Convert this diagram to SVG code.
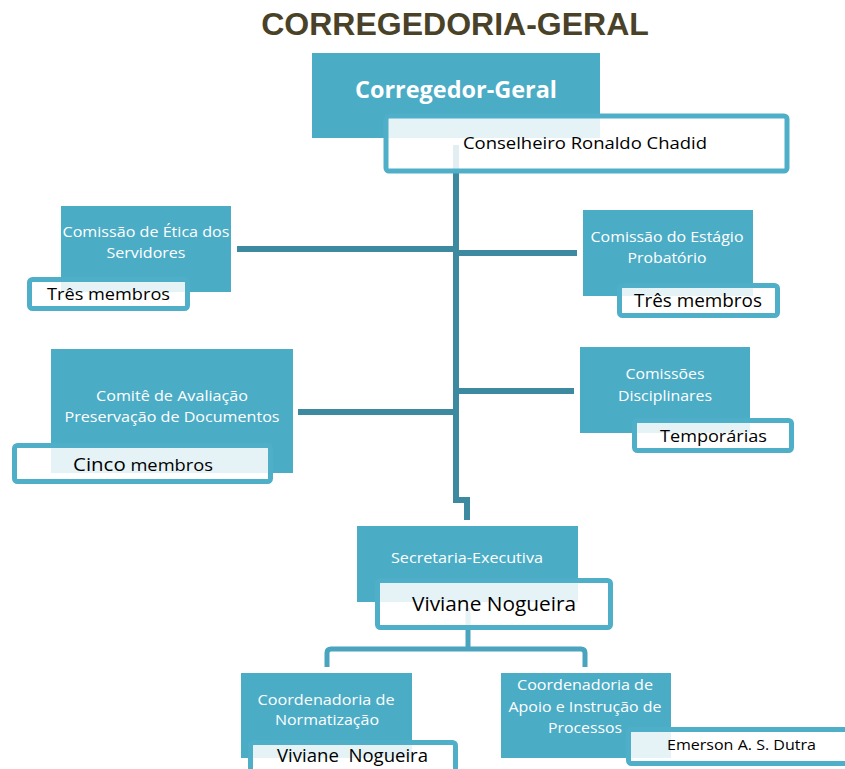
<svg xmlns="http://www.w3.org/2000/svg" width="845" height="769" viewBox="0 0 845 769">
<style>
.box{fill:#4bacc6}
.lab{fill:#ffffff;fill-opacity:0.86;stroke:#4fafc8;stroke-width:5}
.t{font-family:"Open Sans","Noto Sans",sans-serif;fill:#ffffff;text-anchor:middle;font-size:15px}
.b{font-family:"Open Sans","Noto Sans",sans-serif;fill:#000000;font-size:17px;white-space:pre}
.c{fill:none;stroke:#3d8aa0;stroke-width:6}
.c2{fill:none;stroke:#4aa4be;stroke-width:5;stroke-linejoin:round}
.title{font-family:"Liberation Sans",Arial,sans-serif;font-weight:bold;font-size:32px;fill:#4a4228;text-anchor:middle}
</style>
<rect width="845" height="769" fill="#ffffff"/>
<text class="title" x="455" y="35">CORREGEDORIA-GERAL</text>
<g id="connectors">
<path class="c" d="M456,145 V500 H467 V520"/>
<path class="c" d="M237,249 H456"/>
<path class="c" d="M456,253 H577"/>
<path class="c" d="M298,412 H456"/>
<path class="c" d="M456,391 H574"/>
<path class="c2" d="M468,608 V649"/>
<path class="c2" d="M327,667 V653 Q327,649 331,649 H581 Q585,649 585,653 V667"/>
</g>
<g id="corregedor">
<rect class="box" x="312" y="53" width="288" height="85"/>
<text class="t" x="456" y="98" style="font-size:24px;font-weight:bold" textLength="202" lengthAdjust="spacingAndGlyphs">Corregedor-Geral</text>
<rect class="lab" x="386" y="116" width="401" height="55" rx="3"/>
<text class="b" x="463" y="149" textLength="244" lengthAdjust="spacingAndGlyphs">Conselheiro Ronaldo Chadid</text>
</g>
<g id="etica">
<rect class="box" x="61" y="206" width="170" height="86"/>
<text class="t" x="146" y="237" textLength="167" lengthAdjust="spacingAndGlyphs">Comissão de Ética dos</text>
<text class="t" x="146" y="258" textLength="79" lengthAdjust="spacingAndGlyphs">Servidores</text>
<rect class="lab" x="29.5" y="279.5" width="158" height="29" rx="3"/>
<text class="b" x="47" y="300" textLength="123" lengthAdjust="spacingAndGlyphs">Três membros</text>
</g>
<g id="estagio">
<rect class="box" x="583" y="210" width="170" height="86"/>
<text class="t" x="667" y="242" textLength="153" lengthAdjust="spacingAndGlyphs">Comissão do Estágio</text>
<text class="t" x="667" y="263" textLength="79" lengthAdjust="spacingAndGlyphs">Probatório</text>
<rect class="lab" x="619.5" y="285.5" width="158" height="30" rx="3"/>
<text class="b" x="634" y="307" style="font-size:19px" textLength="128" lengthAdjust="spacingAndGlyphs">Três membros</text>
</g>
<g id="comite">
<rect class="box" x="51" y="349" width="242" height="124"/>
<text class="t" x="172" y="401" textLength="152" lengthAdjust="spacingAndGlyphs">Comitê de Avaliação</text>
<text class="t" x="172" y="422" textLength="215" lengthAdjust="spacingAndGlyphs">Preservação de Documentos</text>
<rect class="lab" x="14.5" y="445.5" width="256" height="36" rx="3"/>
<text class="b" x="73" y="471" textLength="140" lengthAdjust="spacingAndGlyphs"><tspan style="font-size:19px">Cinco</tspan> membros</text>
</g>
<g id="disciplinares">
<rect class="box" x="580" y="347" width="170" height="86"/>
<text class="t" x="665" y="379" textLength="79" lengthAdjust="spacingAndGlyphs">Comissões</text>
<text class="t" x="665" y="401" textLength="94" lengthAdjust="spacingAndGlyphs">Disciplinares</text>
<rect class="lab" x="634.5" y="420.5" width="157" height="30" rx="3"/>
<text class="b" x="660" y="442" textLength="107" lengthAdjust="spacingAndGlyphs">Temporárias</text>
</g>
<g id="secretaria">
<rect class="box" x="357" y="526" width="221" height="76"/>
<text class="t" x="467" y="563" textLength="152" lengthAdjust="spacingAndGlyphs">Secretaria-Executiva</text>
<rect class="lab" x="377.5" y="580.5" width="233" height="47" rx="3"/>
<text class="b" x="412" y="611" style="font-size:20px" textLength="164" lengthAdjust="spacingAndGlyphs">Viviane Nogueira</text>
</g>
<g id="normatizacao">
<rect class="box" x="241" y="673" width="171" height="85"/>
<text class="t" x="326" y="705" textLength="137" lengthAdjust="spacingAndGlyphs">Coordenadoria de</text>
<text class="t" x="327" y="725" textLength="104" lengthAdjust="spacingAndGlyphs">Normatização</text>
<rect class="lab" x="250.5" y="742.5" width="205" height="32" rx="3"/>
<text class="b" x="277" y="762" style="font-size:18px" xml:space="preserve" textLength="151" lengthAdjust="spacingAndGlyphs">Viviane  Nogueira</text>
</g>
<g id="apoio">
<rect class="box" x="501" y="673" width="170" height="85"/>
<text class="t" x="585" y="690" textLength="136" lengthAdjust="spacingAndGlyphs">Coordenadoria de</text>
<text class="t" x="585" y="712" textLength="153" lengthAdjust="spacingAndGlyphs">Apoio e Instrução de</text>
<text class="t" x="585" y="733" textLength="74" lengthAdjust="spacingAndGlyphs">Processos</text>
<rect class="lab" x="628.5" y="729.5" width="222" height="34" rx="3"/>
<text class="b" x="667" y="750" style="font-size:15px" textLength="149" lengthAdjust="spacingAndGlyphs">Emerson A. S. Dutra</text>
</g>
</svg>
